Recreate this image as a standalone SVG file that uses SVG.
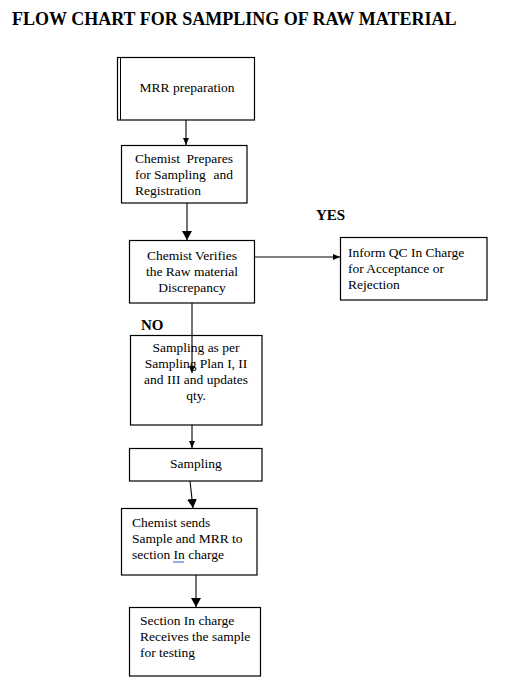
<svg xmlns="http://www.w3.org/2000/svg" width="506" height="690" viewBox="0 0 506 690">
<style>
  .box { fill: #ffffff; stroke: #000000; stroke-width: 1.2; }
  .t { font-family: 'Liberation Serif', serif; font-size: 13.5px; fill: #000000; }
  .c { text-anchor: middle; }
  .e { text-anchor: end; }
  .b { font-family: 'Liberation Serif', serif; font-weight: bold; fill: #000000; }
  .conn { stroke: #000000; stroke-width: 1.1; fill: none; }
</style>
<defs>
  <marker id="ah" markerWidth="9" markerHeight="10" refX="9" refY="5" orient="auto" markerUnits="userSpaceOnUse">
    <path d="M0,0 L9,5 L0,10 Z" fill="#000000"/>
  </marker>
  <marker id="as" markerWidth="7" markerHeight="6" refX="7" refY="3" orient="auto" markerUnits="userSpaceOnUse">
    <path d="M0,0 L7,3 L0,6 Z" fill="#000000"/>
  </marker>
</defs>
<rect width="506" height="690" fill="#ffffff"/>

<text class="b" x="12" y="25" font-size="18">FLOW CHART FOR SAMPLING OF RAW MATERIAL</text>
<text class="b" x="316" y="220" font-size="15">YES</text>
<text class="b" x="141" y="330" font-size="15">NO</text>

<g id="mrr">
  <rect class="box" x="117.5" y="57.5" width="137" height="62.5"/>
  <line x1="120.5" y1="57.5" x2="120.5" y2="120" stroke="#000000" stroke-width="1"/>
  <text class="t c" x="187" y="92">MRR preparation</text>
</g>

<g id="prepares">
  <rect class="box" x="121.5" y="145.5" width="125.5" height="57.5"/>
  <text class="t" x="135" y="163">Chemist</text>
  <text class="t e" x="233" y="163">Prepares</text>
  <text class="t" x="135" y="179">for Sampling</text>
  <text class="t e" x="233" y="179">and</text>
  <text class="t" x="135" y="195">Registration</text>
</g>

<g id="verifies">
  <rect class="box" x="129.5" y="240.5" width="125" height="62.5"/>
  <text class="t c" x="192" y="260">Chemist Verifies</text>
  <text class="t c" x="192" y="276">the Raw material</text>
  <text class="t c" x="192" y="292">Discrepancy</text>
</g>

<g id="inform">
  <rect class="box" x="340.5" y="237.5" width="146.5" height="62.5"/>
  <text class="t" x="348" y="257">Inform QC In Charge</text>
  <text class="t" x="348" y="273">for Acceptance or</text>
  <text class="t" x="348" y="289">Rejection</text>
</g>

<g id="sampling-plan">
  <rect class="box" x="130.5" y="335.5" width="131.5" height="89.5"/>
  <text class="t c" x="196" y="352">Sampling as per</text>
  <text class="t c" x="196" y="368">Sampling Plan I, II</text>
  <text class="t c" x="196" y="384">and III and updates</text>
  <text class="t c" x="196" y="400">qty.</text>
</g>

<g id="sampling">
  <rect class="box" x="129.5" y="448.5" width="132.5" height="32.5"/>
  <text class="t c" x="196" y="468">Sampling</text>
</g>

<g id="sends">
  <rect class="box" x="121.5" y="508.5" width="135.5" height="66.5"/>
  <text class="t" x="132" y="527">Chemist sends</text>
  <text class="t" x="132" y="543">Sample and MRR to</text>
  <text class="t" x="132" y="559">section In charge</text>
  <line x1="173" y1="562" x2="184" y2="562" stroke="#2f5fd0" stroke-width="1"/>
</g>

<g id="receives">
  <rect class="box" x="129.5" y="607.5" width="131" height="68.5"/>
  <text class="t" x="140" y="625">Section In charge</text>
  <text class="t" x="140" y="641">Receives the sample</text>
  <text class="t" x="140" y="657">for testing</text>
</g>

<g id="connectors">
  <line class="conn" x1="186" y1="120" x2="186" y2="145" marker-end="url(#as)"/>
  <line class="conn" x1="187" y1="203" x2="187" y2="240" marker-end="url(#ah)"/>
  <line class="conn" x1="255" y1="257" x2="340" y2="257" marker-end="url(#as)"/>
  <line class="conn" x1="192" y1="303" x2="192" y2="373" marker-end="url(#as)"/>
  <line class="conn" x1="192" y1="425" x2="192" y2="448" marker-end="url(#as)"/>
  <line class="conn" x1="190" y1="481" x2="193" y2="508" marker-end="url(#ah)"/>
  <line class="conn" x1="196" y1="575" x2="196" y2="607" marker-end="url(#ah)"/>
</g>
</svg>
